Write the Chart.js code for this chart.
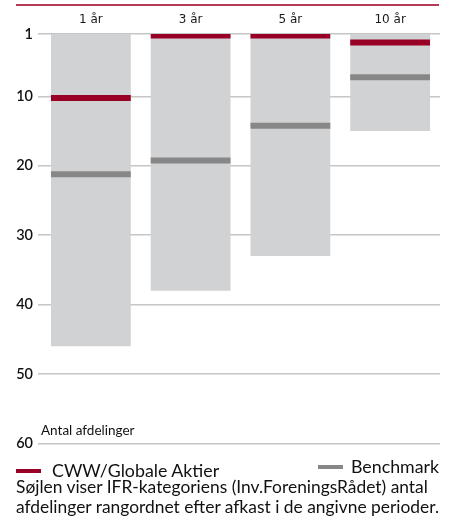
<!DOCTYPE html>
<html>
<head>
<meta charset="utf-8">
<script src="https://cdn.jsdelivr.net/npm/chart.js@4.4.1/dist/chart.umd.min.js"></script>
<style>
    body { margin: 0; background: #fff; font-family: Lato, "Open Sans", sans-serif; color: #111; }
    #wrap { position: relative; width: 452px; height: 525px; }
    #topline { position: absolute; left: 16px; top: 4px; width: 423px; height: 2px; background: #b53a58; }
    #chart-box { position: absolute; left: 0; top: 0; width: 452px; height: 457px; }
    #axis-title { position: absolute; left: 41px; top: 422px; font-size: 13.5px; }
    .legend-item { position: absolute; font-size: 17.8px; line-height: 20px; }
    .legend-item span { position: absolute; top: 9px; width: 25px; height: 4px; }
    #caption { position: absolute; left: 16px; top: 477px; font-size: 17.4px; line-height: 19.5px; white-space: nowrap; }
</style>
</head>
<body>
<div id="wrap">
    <div id="topline"></div>
    <div id="chart-box"><canvas id="chart"></canvas></div>
    <div id="axis-title">Antal afdelinger</div>
    <div class="legend-item" style="left:52px; top:460px;"><span style="left:-36px; background:#990026;"></span>CWW/Globale Aktier</div>
    <div class="legend-item" style="left:351px; top:456px;"><span style="left:-33px; background:#878787;"></span>Benchmark</div>
    <div id="caption">Søjlen viser IFR-kategoriens (Inv.ForeningsRådet) antal<br>afdelinger rangordnet efter afkast i de angivne perioder.</div>
</div>
<script>
const periods = ["1 år", "3 år", "5 år", "10 år"];
const categoryCounts = [46, 38, 33, 15];
const fundRanks = [10, 1, 1, 2];
const benchmarkRanks = [21, 19, 14, 7];
const rankTicks = [1, 10, 20, 30, 40, 50, 60];

// marker thickness in rank units
const markAbove = 0.2;
const markBelow = 0.65;
const toMarker = (rank) => [rank - markAbove, rank + markBelow];

const chart = new Chart(document.getElementById("chart"), {
    type: "bar",
    data: {
        labels: periods,
        datasets: [
            {
                label: "CWW/Globale Aktier",
                data: fundRanks.map(toMarker),
                backgroundColor: "#990026",
                order: 0
            },
            {
                label: "Benchmark",
                data: benchmarkRanks.map(toMarker),
                backgroundColor: "#878787",
                order: 1
            },
            {
                label: "Antal afdelinger",
                data: categoryCounts.map(n => [1, n]),
                backgroundColor: "#d1d2d4",
                order: 2
            }
        ]
    },
    options: {
        responsive: true,
        maintainAspectRatio: false,
        animation: false,
        layout: { padding: { left: 0, right: 12, top: 0, bottom: 2 } },
        datasets: {
            bar: {
                grouped: false,
                barPercentage: 0.8,
                categoryPercentage: 1,
                borderWidth: 0,
                borderSkipped: false,
                clip: 0
            }
        },
        plugins: {
            legend: { display: false },
            tooltip: { enabled: false }
        },
        scales: {
            x: {
                position: "top",
                grid: { display: false, drawTicks: false },
                border: { display: false },
                ticks: {
                    padding: 7,
                    color: "#1a1a1a",
                    font: { family: "DejaVu Sans", size: 12 }
                },
                afterFit: (scale) => { scale.height = 34; }
            },
            y: {
                reverse: true,
                min: 1,
                max: 60,
                afterBuildTicks: (scale) => {
                    scale.ticks = rankTicks.map(v => ({ value: v }));
                },
                grid: { color: "#c6c6c6", lineWidth: 1.6, tickLength: 3 },
                border: { display: false },
                ticks: {
                    padding: 5,
                    color: "#111",
                    font: { family: "Lato", size: 14.5, weight: "600" }
                },
                afterFit: (scale) => { scale.width = 41; }
            }
        }
    }
});
</script>
</body>
</html>
